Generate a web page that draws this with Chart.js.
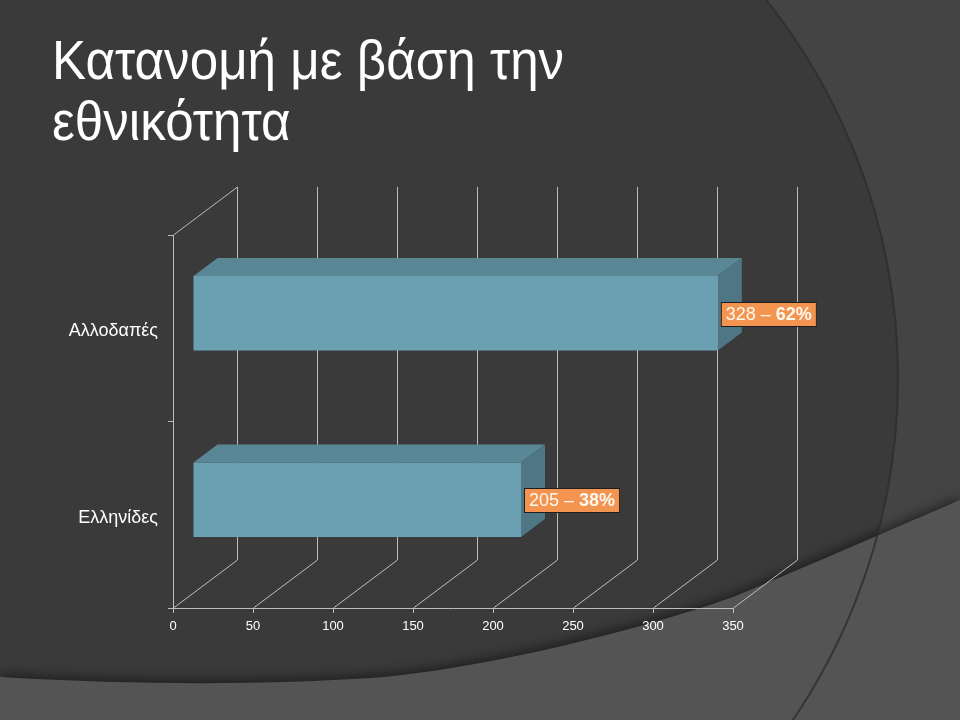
<!DOCTYPE html>
<html>
<head>
<meta charset="utf-8">
<script src="https://cdn.jsdelivr.net/npm/chart.js@4/dist/chart.umd.min.js"></script>
<style>
  html, body { margin: 0; padding: 0; background: #3a3a3a; }
  #wrap { position: relative; width: 960px; height: 720px; overflow: hidden; }
  #title {
    position: absolute; left: 52px; top: 30px;
    font-family: "Liberation Sans", Arial, sans-serif;
    font-size: 55px; line-height: 61px; color: #ffffff;
    transform: scaleX(0.93); transform-origin: 0 0;
    white-space: nowrap;
  }
</style>
</head>
<body>
<div id="wrap">
  <canvas id="myChart" width="960" height="720"></canvas>
  <div id="title">Κατανομή με βάση την<br>εθνικότητα</div>
</div>
<script>
// data
const categories = ["Αλλοδαπές", "Ελληνίδες"];
const counts = [328, 205];
const percents = [62, 38];
const xTicks = [0, 50, 100, 150, 200, 250, 300, 350];

// 3d look
const wallDepth = { x: 64, y: -48 };   // back wall offset
const barFront = { x: 20, y: -15 };    // where the bar front sits in depth
const barBack = { x: 44, y: -33 };

const lineColor = '#bdbdbd';

// slide background with the arcs
const backgroundPlugin = {
    id: 'slideBg',
    beforeDraw(chart) {
        const ctx = chart.ctx;
        ctx.save();
        ctx.fillStyle = '#444444';
        ctx.fillRect(0, 0, chart.width, chart.height);
        ctx.beginPath();
        ctx.arc(290, 378, 608, 0, Math.PI * 2);
        ctx.fillStyle = '#3a3a3a';
        ctx.fill();

        // lighter band at the bottom
        ctx.beginPath();
        ctx.moveTo(0, 677);
        ctx.bezierCurveTo(150, 686, 280, 684, 370, 678);
        ctx.bezierCurveTo(480, 670, 640, 630, 733, 597);
        ctx.bezierCurveTo(810, 565, 890, 530, 960, 500);
        ctx.lineTo(960, 720);
        ctx.lineTo(0, 720);
        ctx.closePath();
        ctx.shadowColor = 'rgba(0,0,0,0.5)';
        ctx.shadowBlur = 12;
        ctx.shadowOffsetY = -3;
        ctx.fillStyle = '#545454';
        ctx.fill();
        ctx.shadowColor = 'transparent';

        // circle edge
        ctx.beginPath();
        ctx.arc(290, 378, 608, -Math.PI / 2, Math.PI / 2);
        ctx.strokeStyle = 'rgba(45,45,45,0.8)';
        ctx.lineWidth = 2;
        ctx.stroke();
        ctx.restore();
    }
};

// back wall, floor lines, bar faces and value boxes
const box3dPlugin = {
    id: 'box3d',
    beforeDatasetsDraw(chart) {
        const ctx = chart.ctx;
        const xs = chart.scales.x;
        const area = chart.chartArea;
        ctx.save();
        ctx.strokeStyle = lineColor;
        ctx.lineWidth = 1;
        ctx.beginPath();
        for (let i = 0; i < xTicks.length; i++) {
            const px = Math.round(xs.getPixelForValue(xTicks[i])) + 0.5;
            // back wall grid line
            ctx.moveTo(px + wallDepth.x, area.top + wallDepth.y);
            ctx.lineTo(px + wallDepth.x, area.bottom + wallDepth.y);
            // floor line
            ctx.moveTo(px, area.bottom);
            ctx.lineTo(px + wallDepth.x, area.bottom + wallDepth.y);
        }
        // top edge of the side wall
        ctx.moveTo(area.left + 0.5, area.top);
        ctx.lineTo(area.left + 0.5 + wallDepth.x, area.top + wallDepth.y);
        ctx.stroke();
        ctx.restore();
    },
    beforeDatasetDraw(chart) {
        chart.ctx.save();
        chart.ctx.translate(barFront.x, barFront.y);
    },
    afterDatasetDraw(chart) {
        chart.ctx.restore();
    },
    afterDatasetsDraw(chart) {
        const ctx = chart.ctx;
        const meta = chart.getDatasetMeta(0);
        ctx.save();
        for (let i = 0; i < meta.data.length; i++) {
            const el = meta.data[i].getProps(['x', 'y', 'base', 'height'], true);
            const top = el.y - el.height / 2;
            const bottom = el.y + el.height / 2;
            const dx = barBack.x - barFront.x;
            const dy = barBack.y - barFront.y;
            const fx0 = el.base + barFront.x;
            const fx1 = el.x + barFront.x;
            const fy0 = top + barFront.y;
            const fy1 = bottom + barFront.y;

            // top face
            ctx.beginPath();
            ctx.moveTo(fx0, fy0);
            ctx.lineTo(fx1, fy0);
            ctx.lineTo(fx1 + dx, fy0 + dy);
            ctx.lineTo(fx0 + dx, fy0 + dy);
            ctx.closePath();
            ctx.fillStyle = '#5a8796';
            ctx.fill();

            // side face
            ctx.beginPath();
            ctx.moveTo(fx1, fy0);
            ctx.lineTo(fx1 + dx, fy0 + dy);
            ctx.lineTo(fx1 + dx, fy1 + dy);
            ctx.lineTo(fx1, fy1);
            ctx.closePath();
            ctx.fillStyle = '#4e7685';
            ctx.fill();

            // value box
            const partA = counts[i] + ' – ';
            const partB = percents[i] + '%';
            ctx.font = '18px "Liberation Sans", Arial, sans-serif';
            const wA = ctx.measureText(partA).width;
            ctx.font = 'bold 18px "Liberation Sans", Arial, sans-serif';
            const wB = ctx.measureText(partB).width;
            const bx = fx1 + 3;
            const bh = 25;
            const bw = wA + wB + 10;
            const by = Math.round(el.y + barFront.y - bh / 2) + 1;
            ctx.fillStyle = '#f39450';
            ctx.fillRect(bx, by, bw, bh);
            ctx.strokeStyle = '#1e1e1e';
            ctx.lineWidth = 1;
            ctx.strokeRect(bx + 0.5, by + 0.5, bw - 1, bh - 1);
            ctx.fillStyle = '#fff8ef';
            ctx.textBaseline = 'middle';
            ctx.textAlign = 'left';
            ctx.font = '18px "Liberation Sans", Arial, sans-serif';
            ctx.fillText(partA, bx + 5, by + bh / 2 + 1);
            ctx.font = 'bold 18px "Liberation Sans", Arial, sans-serif';
            ctx.fillText(partB, bx + 5 + wA, by + bh / 2 + 1);
        }
        ctx.restore();
    }
};

const ctx = document.getElementById("myChart").getContext("2d");
window.myChart = new Chart(ctx, {
    type: 'bar',
    data: {
        labels: categories,
        datasets: [{
            data: counts,
            backgroundColor: '#6aa0b2',
            borderWidth: 0,
            categoryPercentage: 0.4,
            barPercentage: 1,
            clip: false
        }]
    },
    options: {
        indexAxis: 'y',
        responsive: false,
        animation: false,
        devicePixelRatio: 1,
        layout: { padding: { left: 0, right: 227, top: 235, bottom: 72 } },
        plugins: {
            legend: { display: false },
            tooltip: { enabled: false }
        },
        scales: {
            x: {
                min: 0,
                max: 350,
                afterFit: (scale) => { scale.height = 40; },
                afterBuildTicks: (scale) => { scale.ticks = xTicks.map(v => ({ value: v })); },
                ticks: {
                    color: '#ffffff',
                    font: { family: '"Liberation Sans", Arial, sans-serif', size: 13 },
                    padding: 6,
                    maxRotation: 0
                },
                grid: { drawOnChartArea: false, tickLength: 5, color: lineColor },
                border: { color: lineColor }
            },
            y: {
                afterFit: (scale) => { scale.width = 173; },
                ticks: {
                    color: '#ffffff',
                    font: { family: '"Liberation Sans", Arial, sans-serif', size: 18 },
                    padding: 10,
                    labelOffset: 3
                },
                grid: { drawOnChartArea: false, offset: true, tickLength: 5, color: lineColor },
                border: { color: lineColor }
            }
        }
    },
    plugins: [backgroundPlugin, box3dPlugin]
});
</script>
</body>
</html>
